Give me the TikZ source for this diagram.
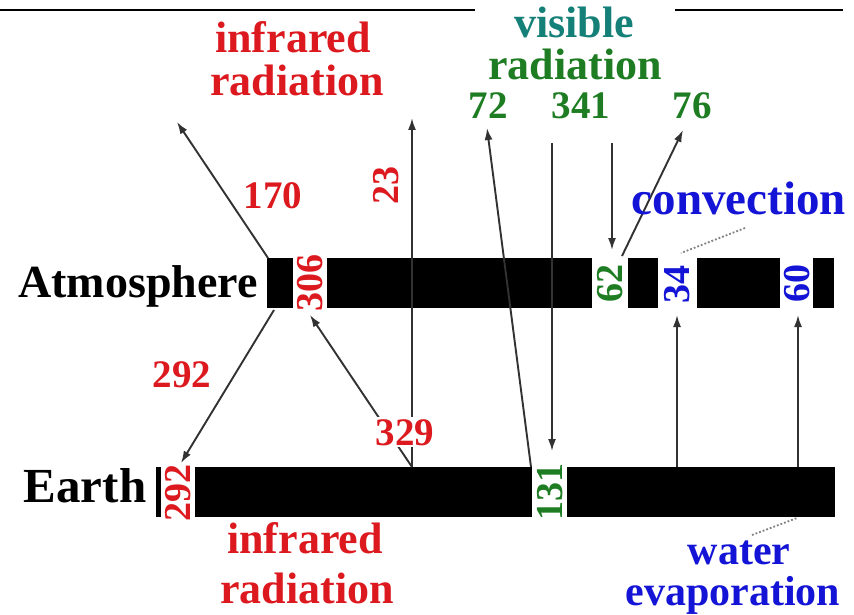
\documentclass[tikz,border=0pt]{standalone}
\usepackage{fontspec}
\setmainfont{Liberation Serif}
\usetikzlibrary{arrows.meta}
\definecolor{ired}{RGB}{220,25,30}
\definecolor{vgreen}{RGB}{30,125,35}
\definecolor{vteal}{RGB}{20,128,120}
\definecolor{cblue}{RGB}{20,20,215}
\definecolor{arr}{RGB}{50,50,50}
\begin{document}
\begin{tikzpicture}[x=1pt,y=-1pt,
  word/.style={font=\fontsize{44}{44}\selectfont\bfseries, inner sep=0pt, anchor=base},
  num/.style={font=\fontsize{39}{39}\selectfont\bfseries, inner sep=0pt, anchor=base},
  vnum/.style={font=\fontsize{38}{38}\selectfont\bfseries, rotate=90, fill=white, inner sep=1pt},
  flow/.style={draw=arr, line width=1.9pt, -{Latex[length=12pt,width=8pt]}},
  hint/.style={draw=gray, line width=1.8pt, dotted}]
\useasboundingbox (0,0) rectangle (854,615);
\fill[white] (0,0) rectangle (854,615);
% top rules
\draw[line width=1.3pt] (0,10) -- (475,10);
\draw[line width=1.3pt] (675,10) -- (843,10);
% atmosphere bar pieces
\fill (267,258) rectangle (293,308);
\fill (327,258) rectangle (592,308);
\fill (628,258) rectangle (658,308);
\fill (697,258) rectangle (780,308);
\fill (813,258) rectangle (834,308);
% earth bar pieces
\fill (156,467) rectangle (161,517);
\fill (195,467) rectangle (532,517);
\fill (567,467) rectangle (835,517);
% connector end points
\coordinate (a170s) at (268,258);
\coordinate (a170e) at (177,122);
\coordinate (a292s) at (274,310);
\coordinate (a292e) at (181,463);
\coordinate (eb23) at (412,467);
\coordinate (a23e) at (412,118);
\coordinate (a306e) at (310,315);
\coordinate (a72s) at (531,467);
\coordinate (a72e) at (487,128);
\coordinate (a341as) at (552,143);
\coordinate (a341ae) at (552,451);
\coordinate (a341bs) at (612,143);
\coordinate (a341be) at (612,250);
\coordinate (a76s) at (622,256);
\coordinate (a76e) at (683,130);
\coordinate (a34s) at (677,467);
\coordinate (a34e) at (677,315);
\coordinate (a60s) at (798,467);
\coordinate (a60e) at (798,315);
\coordinate (cv1) at (745,228);
\coordinate (cv2) at (681,253);
\coordinate (we1) at (752,535);
\coordinate (we2) at (797,518);
% connectors
\draw[flow] (a170s) -- (a170e);
\draw[flow] (a292s) -- (a292e);
\draw[flow] (eb23) -- (a23e);
\draw[flow] (eb23) -- (a306e);
\draw[flow] (a72s) -- (a72e);
\draw[flow] (a341as) -- (a341ae);
\draw[flow] (a341bs) -- (a341be);
\draw[flow] (a76s) -- (a76e);
\draw[flow] (a34s) -- (a34e);
\draw[flow] (a60s) -- (a60e);
\draw[hint] (cv1) -- (cv2);
\draw[hint] (we1) -- (we2);
% labels
\node[word, text=ired] (ir1) at (293,53) {infrared};
\node[word, text=ired] (ir2) at (297,96) {radiation};
\node[word, text=vteal] (vis1) at (574,38) {visible};
\node[word, text=vgreen] (vis2) at (575,80) {radiation};
\node[num, text=vgreen] (n72) at (488,119) {72};
\node[num, text=vgreen] (n341) at (581,119) {341};
\node[num, text=vgreen] (n76) at (692,119) {76};
\node[num, text=ired] (n170) at (273,208) {170};
\node[vnum, text=ired] (n23) at (386,185) {23};
\node[word, text=cblue, font=\fontsize{47}{47}\selectfont\bfseries] (conv) at (739,214) {convection};
\node[word, text=black, font=\fontsize{46}{46}\selectfont\bfseries] (atm) at (138,297) {Atmosphere};
\node[vnum, text=ired] (n306) at (310,283) {306};
\node[vnum, text=vgreen] (n62) at (610,283) {62};
\node[vnum, text=cblue] (n34) at (677,284) {34};
\node[vnum, text=cblue] (n60) at (797,283) {60};
\node[num, text=ired] (n292a) at (182,387) {292};
\node[num, text=ired, fill=white, inner sep=2pt] (n329) at (405,445) {329};
\node[word, text=black, font=\fontsize{49}{49}\selectfont\bfseries] (earth) at (85,502) {Earth};
\node[vnum, text=ired] (n292b) at (178,493) {292};
\node[vnum, text=vgreen] (n131) at (550,492) {131};
\node[word, text=ired] (ir3) at (305,553) {infrared};
\node[word, text=ired] (ir4) at (307,603) {radiation};
\node[word, text=cblue, font=\fontsize{42}{42}\selectfont\bfseries] (we3) at (739,564) {water};
\node[word, text=cblue, font=\fontsize{42}{42}\selectfont\bfseries] (we4) at (733,605) {evaporation};
\end{tikzpicture}
\end{document}
